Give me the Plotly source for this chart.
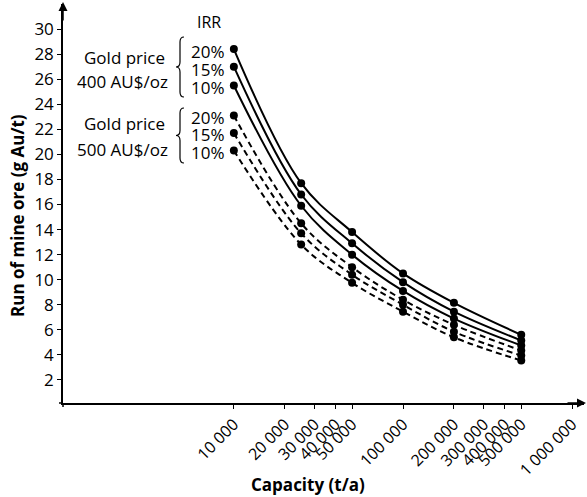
import plotly.graph_objects as go

capacity = [10000, 25000, 50000, 100000, 200000, 500000]
g400_20 = [28.4, 17.7, 13.8, 10.5, 8.15, 5.6]
g400_15 = [27.0, 16.8, 12.9, 9.8, 7.45, 5.15]
g400_10 = [25.5, 15.9, 12.0, 9.1, 6.9, 4.75]
g500_20 = [23.1, 14.5, 11.0, 8.4, 6.4, 4.35]
g500_15 = [21.7, 13.7, 10.4, 8.0, 5.85, 3.95]
g500_10 = [20.3, 12.8, 9.75, 7.45, 5.4, 3.55]

x_tickvals = [10000, 20000, 30000, 40000, 50000, 100000, 200000, 300000, 400000, 500000, 1000000]
x_ticktext = ["10 000", "20 000", "30 000", "40 000", "50 000", "100 000", "200 000",
              "300 000", "400 000", "500 000", "1 000 000"]
y_tickvals = list(range(2, 31, 2))

W, H = 587, 497
L, R, T, B = 63, 3, 4, 94
FONT = "Open Sans"

fig = go.Figure()
series = [
    (g400_20, "solid"), (g400_15, "solid"), (g400_10, "solid"),
    (g500_20, "6px,4px"), (g500_15, "6px,4px"), (g500_10, "6px,4px"),
]
for ys, dash in series:
    fig.add_trace(go.Scatter(
        x=capacity, y=ys, mode="lines+markers",
        line=dict(color="black", width=2, dash=dash, shape="spline", smoothing=1.0),
        marker=dict(color="black", size=8),
        showlegend=False,
    ))

def px2paper(px, py):
    return (px - L) / (W - L - R), (H - B - py) / (H - T - B)

annots = []
def txt(px, py, s, size=17, xanchor="center", family=FONT, **kw):
    x, y = px2paper(px, py)
    annots.append(dict(x=x, y=y, xref="paper", yref="paper", text=s, showarrow=False,
                       xanchor=xanchor, yanchor="middle",
                       font=dict(family=family, size=size, color="black"), **kw))

txt(209, 22, "IRR", size=16)
for py, s in [(51, "20%"), (69, "15%"), (87, "10%"), (117, "20%"), (134, "15%"), (152, "10%")]:
    txt(227, py, s, xanchor="right", size=17)
txt(124, 57, "Gold price")
txt(122, 81, "400 AU$/oz")
txt(124, 123, "Gold price")
txt(122, 149, "500 AU$/oz")
txt(308, 484, "<b>Capacity (t/a)</b>", size=17)
txt(17, 216, "<b>Run of mine ore (g Au/t)</b>", size=17, textangle=-90)

# braces
shapes = []
def brace(x_right, y_top, y_bot, depth=8):
    ym = (y_top + y_bot) / 2
    xm = x_right - depth / 2
    xt = x_right - depth
    pts = [
        ("M", [(x_right, y_top)]),
        ("Q", [(xm, y_top), (xm, y_top + 5)]),
        ("L", [(xm, ym - 5)]),
        ("Q", [(xm, ym), (xt, ym)]),
        ("Q", [(xm, ym), (xm, ym + 5)]),
        ("L", [(xm, y_bot - 5)]),
        ("Q", [(xm, y_bot), (x_right, y_bot)]),
    ]
    d = ""
    for cmd, ps in pts:
        d += cmd + " " + " ".join("%.5f,%.5f" % px2paper(px, py) for px, py in ps) + " "
    shapes.append(dict(type="path", path=d.strip(), xref="paper", yref="paper",
                       line=dict(color="black", width=1.2)))

brace(184, 37, 97)
brace(184, 108, 163)

# axis line extensions (x axis slightly past y axis, y axis slightly below x axis)
shapes.append(dict(type="line", xref="paper", yref="paper",
                   x0=px2paper(59, 403)[0], x1=px2paper(63, 403)[0],
                   y0=px2paper(59, 403)[1], y1=px2paper(63, 403)[1],
                   line=dict(color="black", width=1.5)))
shapes.append(dict(type="line", xref="paper", yref="paper",
                   x0=px2paper(63, 403)[0], x1=px2paper(63, 407)[0],
                   y0=px2paper(63, 403)[1], y1=px2paper(63, 407)[1],
                   line=dict(color="black", width=1.5)))

# axis arrowheads
xa, ya = px2paper(63, 2)
annots.append(dict(x=xa, y=ya, ax=0, ay=20, xref="paper", yref="paper",
                   axref="pixel", ayref="pixel", arrowcolor="black",
                   showarrow=True, arrowhead=2, arrowsize=1.2, arrowwidth=1.5, text=""))
xb, yb = px2paper(586, 403)
annots.append(dict(x=xb, y=yb, ax=-20, ay=0, xref="paper", yref="paper",
                   axref="pixel", ayref="pixel", arrowcolor="black",
                   showarrow=True, arrowhead=2, arrowsize=1.2, arrowwidth=1.5, text=""))

fig.update_layout(
    width=W, height=H,
    margin=dict(l=L, r=R, t=T, b=B),
    plot_bgcolor="white", paper_bgcolor="white",
    annotations=annots, shapes=shapes,
    xaxis=dict(type="log", range=[2.99, 6.07], tickvals=x_tickvals, ticktext=x_ticktext,
               tickangle=-45, ticks="outside", ticklen=4, tickcolor="black", automargin=False,
               showline=True, linecolor="black", linewidth=1.5, showgrid=False, zeroline=False,
               tickfont=dict(family=FONT, size=16, color="black")),
    yaxis=dict(range=[0.16, 32], tickvals=y_tickvals, ticks="outside", ticklen=4,
               tickcolor="black", showline=True, linecolor="black", linewidth=1.5,
               showgrid=False, zeroline=False, automargin=False,
               tickfont=dict(family=FONT, size=17, color="black")),
)
fig.write_html("out.html", config={"displayModeBar": False},
               post_script="document.body.style.margin='0';document.body.style.padding='0';")
